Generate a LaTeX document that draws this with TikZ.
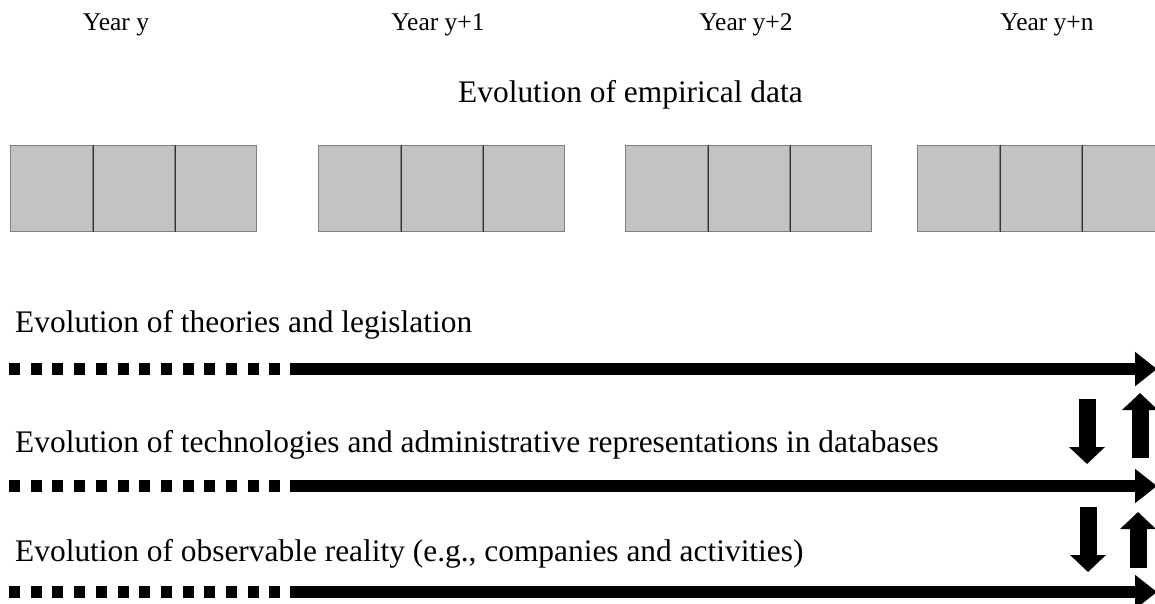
\documentclass[tikz,border=0pt]{standalone}
\usepackage{fontspec}
\setmainfont{Liberation Serif}
\usetikzlibrary{arrows.meta}
\definecolor{cellgray}{RGB}{195,195,195}

\begin{document}
\begin{tikzpicture}[x=1pt, y=-1pt, font=\fontsize{31.4}{36}\selectfont]
    % Set up styles for cells, labels and arrows
    \tikzstyle{cell} = [draw=black!50, fill=cellgray, line width=1.2pt,
        minimum width=82pt, minimum height=86pt, inner sep=0pt, anchor=north west]
    \tikzstyle{year} = [font=\fontsize{25.5}{30}\selectfont, anchor=base, inner sep=0pt]
    \tikzstyle{label} = [anchor=base west, inner sep=0pt]
    \tikzstyle{dots} = [line width=12pt, dash pattern=on 11pt off 10.7pt]
    \tikzstyle{track} = [line width=12pt, -{Triangle[length=22pt,width=33pt]}]
    \tikzstyle{block} = [line width=17pt, -{Triangle[length=17pt,width=35pt]}]

    \clip (0,0) rectangle (1155,603);

    % Yearly data cells
    \foreach \g/\gx in {1/10, 2/318, 3/625, 4/917} {
        \foreach \c in {0,1,2}
            \node[cell] (cell\g\c) at (\gx+\c*82,145) {};
        \foreach \c in {0,1}
            \draw[black!80, line width=1.2pt] (cell\g\c.north east) -- (cell\g\c.south east);
    }

    % Year labels
    \node[year] (year1) at (116,30) {Year y};
    \node[year] (year2) at (438,30) {Year y+1};
    \node[year] (year3) at (746,30) {Year y+2};
    \node[year] (year4) at (1047,30) {Year y+n};

    \node[label] (empirical) at (458,102) {Evolution of empirical data};

    % Label the three levels
    \node[label] (theories) at (15,332) {Evolution of theories and legislation};
    \node[label] (technologies) at (15,452) {Evolution of technologies and administrative representations in databases};
    \node[label] (reality) at (15,561) {Evolution of observable reality (e.g., companies and activities)};

    % Draw the time lines, dotted at first
    \foreach \t/\ty in {1/369, 2/486, 3/592} {
        \coordinate (start\t) at (9,\ty);
        \coordinate (split\t) at (290,\ty);
        \coordinate (end\t) at (1157,\ty);
        \draw[dots] (start\t) -- (split\t);
        \draw[track] (split\t) -- (end\t);
    }

    % Influence between the levels
    \coordinate (down1a) at (1087,399);
    \coordinate (down1b) at (1087,464);
    \coordinate (up1a) at (1140,458);
    \coordinate (up1b) at (1140,393);
    \coordinate (down2a) at (1088,507);
    \coordinate (down2b) at (1088,572);
    \coordinate (up2a) at (1138,568);
    \coordinate (up2b) at (1138,512);
    \draw[block] (down1a) -- (down1b);
    \draw[block] (up1a) -- (up1b);
    \draw[block] (down2a) -- (down2b);
    \draw[block] (up2a) -- (up2b);

\end{tikzpicture}
\end{document}
